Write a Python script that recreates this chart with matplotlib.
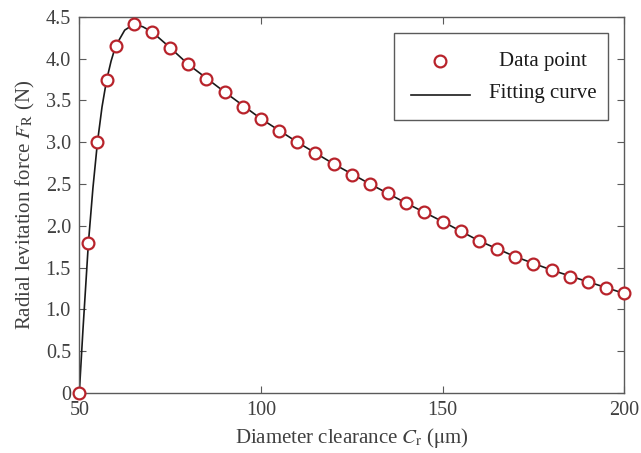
import numpy as np
import matplotlib
matplotlib.use('Agg')
import matplotlib.pyplot as plt
from matplotlib.patches import Rectangle
from matplotlib.lines import Line2D

# measured points
clearance = [50, 52.5, 55, 57.5, 60, 65, 70, 75, 80, 85, 90, 95, 100, 105, 110,
             115, 120, 125, 130, 135, 140, 145, 150, 155, 160, 165, 170, 175,
             180, 185, 190, 195, 200]
force = [0.0, 1.79, 3.0, 3.74, 4.15, 4.41, 4.32, 4.13, 3.93, 3.76, 3.60, 3.42,
         3.28, 3.13, 3.00, 2.87, 2.74, 2.61, 2.50, 2.39, 2.27, 2.17, 2.05, 1.94,
         1.82, 1.72, 1.63, 1.54, 1.47, 1.39, 1.33, 1.25, 1.19]

# fitting curve
fit_x = [50, 51, 52.5, 53.75, 55, 56.25, 57.5, 58.75, 60, 62.5, 65, 67.5, 70,
         75, 80, 90, 100, 110, 120, 130, 140, 150, 160, 170, 180, 190, 200]
fit_y = [0.0, 0.75, 1.79, 2.45, 3.0, 3.42, 3.74, 3.97, 4.15, 4.34, 4.41, 4.38,
         4.32, 4.13, 3.93, 3.60, 3.28, 3.00, 2.74, 2.50, 2.27, 2.05, 1.82, 1.63,
         1.47, 1.33, 1.19]

yticks = [0, 0.5, 1.0, 1.5, 2.0, 2.5, 3.0, 3.5, 4.0, 4.5]
ytick_labels = ['0', '0.5', '1.0', '1.5', '2.0', '2.5', '3.0', '3.5', '4.0', '4.5']
xticks = [50, 100, 150, 200]

plt.rcParams['font.family'] = 'Liberation Serif'
plt.rcParams['mathtext.fontset'] = 'stix'

txt = '#404040'
edge = '#5a5a5a'
red = '#b8232b'
ink = '#1a1a1a'

fig = plt.figure(figsize=(6.41, 4.53), dpi=100)
ax = fig.add_axes([0.1237, 0.1325, 0.8503, 0.8305])

ax.plot(fit_x, fit_y, color=ink, lw=1.2, zorder=2)
ax.plot(clearance, force, 'o', ms=8.5, mfc='white', mec=red, mew=1.6,
        zorder=3, clip_on=False)

ax.set_xlim(50, 200)
ax.set_ylim(0, 4.5)
ax.set_xticks(xticks)
ax.set_yticks(yticks)
ax.set_yticklabels(ytick_labels)
ax.tick_params(direction='in', length=5, width=0.8, color=edge, labelcolor=txt,
               labelsize=14.5, top=True, right=True, pad=6)
for s in ax.spines.values():
    s.set_color(edge)
    s.set_linewidth(1.0)

ax.set_xlabel(r'Diameter clearance $C_\mathrm{r}$ ($\mathrm{\mu}$m)', fontsize=15,
              color=txt, labelpad=4)
ax.set_ylabel(r'Radial levitation force $F_\mathrm{R}$ (N)', fontsize=15,
              color=txt, labelpad=6)

# legend box, text centred like the original
ax.add_patch(Rectangle((0.5775, 0.7255), 0.3926, 0.2312, transform=ax.transAxes,
                       facecolor='white', edgecolor=edge, lw=1.0, zorder=4))
ax.add_line(Line2D([0.6618], [0.8823], marker='o', ms=8.5, mfc='white', mec=red,
                   mew=1.6, transform=ax.transAxes, zorder=5))
ax.add_line(Line2D([0.6086, 0.7170], [0.7919, 0.7919], color=ink, lw=1.2,
                   transform=ax.transAxes, zorder=5))
ax.text(0.8510, 0.8698, 'Data point', transform=ax.transAxes, ha='center',
        va='baseline', fontsize=15, color=ink, zorder=5)
ax.text(0.8510, 0.7847, 'Fitting curve', transform=ax.transAxes, ha='center',
        va='baseline', fontsize=15, color=ink, zorder=5)

fig.savefig('out.png', dpi=100)
